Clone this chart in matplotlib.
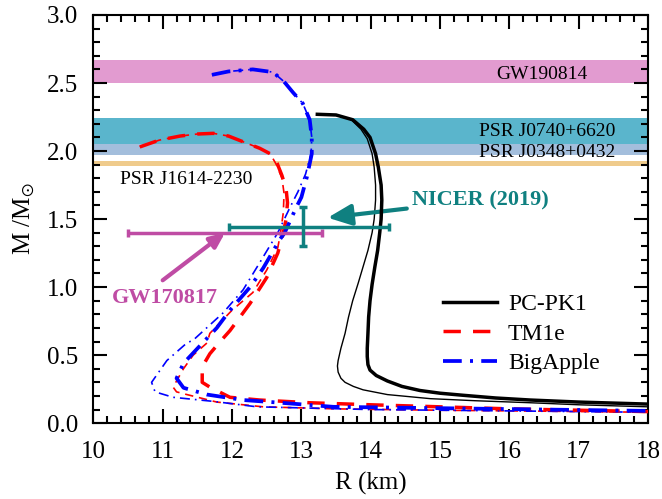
import matplotlib
matplotlib.use("Agg")
import matplotlib.pyplot as plt
from matplotlib.ticker import MultipleLocator

plt.rcParams['font.family'] = ['Liberation Serif', 'DejaVu Serif']
plt.rcParams['mathtext.fontset'] = 'stix'

# ---------------- data ----------------
# PC-PK1 (thick / thin)
pk1_R = [13.23, 13.50, 13.74, 13.90, 13.99, 14.07, 14.11, 14.15, 14.16, 14.15, 14.13, 14.10, 14.06,
         14.02, 13.99, 13.97, 13.96, 13.95, 13.95, 13.96, 13.99, 14.08, 14.24, 14.45, 14.71, 15.00,
         15.33, 15.80, 16.30, 17.00, 18.00]
pk1_M = [2.27, 2.265, 2.23, 2.16, 2.10, 1.98, 1.88, 1.75, 1.64, 1.50, 1.40, 1.27, 1.15,
         1.02, 0.90, 0.78, 0.66, 0.55, 0.49, 0.43, 0.39, 0.35, 0.31, 0.27, 0.24, 0.22,
         0.205, 0.185, 0.17, 0.155, 0.14]
pk1t_R = [13.23, 13.50, 13.72, 13.86, 13.95, 14.02, 14.05, 14.07, 14.07, 14.05, 14.02, 13.96, 13.89,
          13.82, 13.74, 13.68, 13.63, 13.57, 13.53, 13.52, 13.53, 13.57, 13.63, 13.75, 13.89, 14.24,
          14.86, 15.50, 16.30, 17.00, 18.00]
pk1t_M = [2.27, 2.265, 2.23, 2.16, 2.09, 1.98, 1.88, 1.75, 1.64, 1.50, 1.40, 1.27, 1.15,
          1.03, 0.90, 0.78, 0.66, 0.55, 0.46, 0.42, 0.375, 0.33, 0.30, 0.27, 0.245, 0.21,
          0.18, 0.165, 0.15, 0.135, 0.12]

# TM1e (thick / thin)
tm_R = [10.67, 10.95, 11.25, 11.50, 11.73, 11.95, 12.20, 12.40, 12.55, 12.65, 12.72, 12.78, 12.80,
        12.78, 12.74, 12.66, 12.50, 12.26, 11.97, 11.83, 11.68, 11.60, 11.57, 11.57, 11.68, 11.97,
        12.40, 13.12, 14.00, 15.00, 16.00, 17.00, 18.00]
tm_M = [2.03, 2.08, 2.11, 2.125, 2.13, 2.11, 2.06, 2.02, 1.98, 1.91, 1.82, 1.72, 1.62,
        1.50, 1.40, 1.25, 1.07, 0.88, 0.68, 0.60, 0.51, 0.44, 0.375, 0.30, 0.265, 0.19,
        0.17, 0.15, 0.135, 0.12, 0.105, 0.095, 0.085]
tmt_R = [10.67, 10.95, 11.25, 11.50, 11.73, 11.95, 12.20, 12.40, 12.55, 12.64, 12.72, 12.75, 12.74,
         12.70, 12.66, 12.50, 12.30, 12.00, 11.68, 11.64, 11.44, 11.30, 11.15, 11.20, 11.35, 11.78,
         12.45, 13.50, 15.00, 16.50, 18.00]
tmt_M = [2.03, 2.08, 2.11, 2.125, 2.13, 2.11, 2.06, 2.02, 1.98, 1.90, 1.80, 1.69, 1.55,
         1.40, 1.29, 1.125, 0.96, 0.83, 0.66, 0.59, 0.50, 0.40, 0.265, 0.23, 0.21, 0.155,
         0.12, 0.105, 0.095, 0.088, 0.08]

# BigApple (thick / thin)
ba_R = [11.71, 11.95, 12.30, 12.59, 12.75, 12.88, 13.02, 13.12, 13.15, 13.15, 13.08, 13.00, 12.93,
        12.84, 12.76, 12.69, 12.45, 12.26, 11.97, 11.78, 11.54, 11.30, 11.20, 11.30, 11.64, 12.16,
        12.70, 13.46, 15.00, 16.50, 18.00]
ba_M = [2.56, 2.585, 2.60, 2.58, 2.51, 2.43, 2.35, 2.23, 2.10, 1.98, 1.81, 1.66, 1.59,
        1.49, 1.40, 1.35, 1.14, 1.00, 0.83, 0.70, 0.57, 0.44, 0.33, 0.26, 0.21, 0.17,
        0.15, 0.12, 0.11, 0.10, 0.09]
bat_R = [11.71, 11.95, 12.30, 12.59, 12.75, 12.88, 13.02, 13.12, 13.15, 13.14, 13.06, 12.95, 12.84,
         12.66, 12.40, 12.16, 11.87, 11.44, 11.35, 11.06, 10.84, 10.89, 11.15, 11.73, 12.36, 14.00,
         16.00, 18.00]
bat_M = [2.56, 2.585, 2.60, 2.58, 2.51, 2.43, 2.35, 2.23, 2.10, 1.98, 1.83, 1.70, 1.59,
         1.40, 1.18, 0.98, 0.81, 0.61, 0.59, 0.46, 0.30, 0.23, 0.19, 0.16, 0.12, 0.10,
         0.09, 0.08]

# observational constraints
gw190814 = (2.50, 2.67)
j0740 = (2.05, 2.24)
j0348 = (1.97, 2.05)
j1614 = (1.892, 1.924)
gw170817_R, gw170817_M, gw170817_Rerr = 11.9, 1.40, 1.4
nicer_R, nicer_M = 13.02, 1.44
nicer_Rerr = [[1.06], [1.24]]
nicer_Merr = [[0.14], [0.15]]

# ---------------- figure ----------------
fig = plt.figure(figsize=(6.62, 4.99), dpi=100)
ax = fig.add_axes([0.141, 0.152, 0.838, 0.818])

ax.axhspan(*gw190814, color='#E29BD0', lw=0, zorder=0)
ax.axhspan(*j0348, color='#A3BEDC', lw=0, zorder=0)
ax.axhspan(*j0740, color='#5AB5CC', lw=0, zorder=0)
ax.axhspan(*j1614, color='#EFCB8C', lw=0, zorder=0)

ax.text(16.47, 2.56, 'GW190814', fontsize=14, ha='center', va='center')
ax.text(16.54, 2.14, 'PSR J0740+6620', fontsize=14, ha='center', va='center')
ax.text(16.54, 1.99, 'PSR J0348+0432', fontsize=14, ha='center', va='center')
ax.text(10.38, 1.79, 'PSR J1614-2230', fontsize=14, ha='left', va='center')

# curves
ax.plot(pk1t_R, pk1t_M, color='black', lw=1.0, zorder=3)
ax.plot(tmt_R, tmt_M, color='red', lw=1.2, dashes=(5, 3.5), zorder=3)
ax.plot(bat_R, bat_M, color='blue', lw=1.2, dashes=(6, 3, 1, 3), zorder=3)
ax.plot(pk1_R, pk1_M, color='black', lw=2.5, label='PC-PK1', zorder=4)
ax.plot(tm_R, tm_M, color='red', lw=2.5, dashes=(5, 3.5), label='TM1e', zorder=4)
ax.plot(ba_R, ba_M, color='blue', lw=2.7, dashes=(5, 2.2, 0.8, 2.2), label='BigApple', zorder=4)

# error bars
mag = '#BF4CA4'
teal = '#0F8080'
ax.errorbar([gw170817_R], [gw170817_M], xerr=[gw170817_Rerr], color=mag, lw=2.5,
            capsize=3, capthick=2.5, zorder=5)
ax.errorbar([nicer_R], [nicer_M], xerr=nicer_Rerr, yerr=nicer_Merr, color=teal, lw=2.5,
            capsize=3, capthick=2.5, zorder=5)

ax.annotate('NICER (2019)', xy=(13.38, 1.51), xytext=(14.6, 1.64), color=teal,
            fontsize=16, fontweight='bold', va='center', ha='left',
            arrowprops=dict(arrowstyle='-|>,head_length=0.9,head_width=0.4', color=teal, lw=3,
                            shrinkA=2, shrinkB=0))
ax.annotate('', xy=(11.9, 1.40), xytext=(11.0, 1.05),
            arrowprops=dict(arrowstyle='-|>,head_length=0.9,head_width=0.4', color=mag, lw=3,
                            shrinkA=0, shrinkB=0))
ax.text(10.27, 0.92, 'GW170817', color=mag, fontsize=16, fontweight='bold', va='center', ha='left')

ax.set_xlim(10, 18)
ax.set_ylim(0, 3.0)
ax.xaxis.set_major_locator(MultipleLocator(1))
ax.xaxis.set_minor_locator(MultipleLocator(0.2))
ax.yaxis.set_major_locator(MultipleLocator(0.5))
ax.yaxis.set_minor_locator(MultipleLocator(0.1))
ax.yaxis.set_major_formatter(matplotlib.ticker.FormatStrFormatter('%.1f'))
ax.tick_params(which='both', direction='in', top=True, right=True, labelsize=18, width=1.5)
ax.tick_params(which='major', length=10)
ax.tick_params(which='minor', length=5)
ax.tick_params(axis='x', which='major', pad=13)
ax.tick_params(axis='y', which='major', pad=11)
for s in ax.spines.values():
    s.set_linewidth(1.5)

ax.set_xlabel('R (km)', fontsize=18, labelpad=6)
ax.set_ylabel(r'M /M$_{\odot}$', fontsize=18, labelpad=7)

leg = ax.legend(loc='upper left', bbox_to_anchor=(0.592, 0.37), frameon=False, fontsize=17,
                handlelength=2.3, handletextpad=0.45, labelspacing=0.35)

fig.savefig('out.png', dpi=100)
